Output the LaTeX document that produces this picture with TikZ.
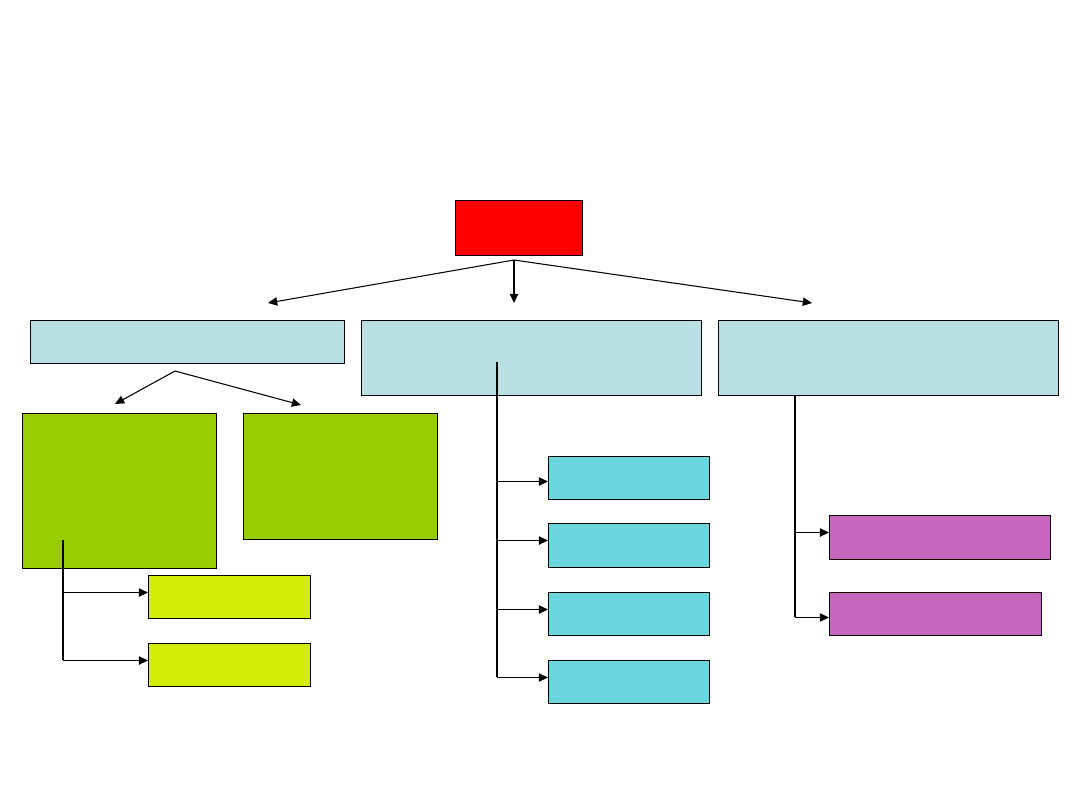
\documentclass[tikz,border=0pt]{standalone}
\usepackage{tikz}
\usetikzlibrary{arrows.meta,positioning,calc}
\definecolor{piros}{HTML}{FF0000}
\definecolor{halvany}{HTML}{BBE0E3}
\definecolor{zold}{HTML}{99CC00}
\definecolor{sarga}{HTML}{D4EC0A}
\definecolor{turkiz}{HTML}{6BD7DD}
\definecolor{lila}{HTML}{C866C0}
\tikzset{
  dob/.style={draw,line width=0.7pt,inner sep=0pt,anchor=north west},
  nyil/.style={line width=0.75pt,-{Triangle[length=2.3mm,width=2.1mm]}},
  vonal/.style={line width=0.75pt},
}

\begin{document}
\begin{tikzpicture}[x=0.025cm,y=-0.025cm]
  \useasboundingbox (0,0) rectangle (1080,810);
  % felso szint
  \node[dob,fill=piros,minimum width=3.175cm,minimum height=1.375cm] (fo) at (455,200) {};
  \node[dob,fill=halvany,minimum width=7.85cm,minimum height=1.075cm] (b1) at (30,320) {};
  \node[dob,fill=halvany,minimum width=8.5cm,minimum height=1.875cm] (b2) at (361,320) {};
  \node[dob,fill=halvany,minimum width=8.5cm,minimum height=1.875cm] (b3) at (718,320) {};
  % bal ag
  \node[dob,fill=zold,minimum width=4.85cm,minimum height=3.875cm] (g1) at (22,413) {};
  \node[dob,fill=zold,minimum width=4.85cm,minimum height=3.15cm] (g2) at (243,413) {};
  \node[dob,fill=sarga,minimum width=4.05cm,minimum height=1.075cm] (s1) at (148,575) {};
  \node[dob,fill=sarga,minimum width=4.05cm,minimum height=1.075cm] (s2) at (148,643) {};
  % kozepso ag
  \node[dob,fill=turkiz,minimum width=4.025cm,minimum height=1.075cm] (t1) at (548,456) {};
  \node[dob,fill=turkiz,minimum width=4.025cm,minimum height=1.1cm] (t2) at (548,523) {};
  \node[dob,fill=turkiz,minimum width=4.025cm,minimum height=1.075cm] (t3) at (548,592) {};
  \node[dob,fill=turkiz,minimum width=4.025cm,minimum height=1.075cm] (t4) at (548,660) {};
  % jobb ag
  \node[dob,fill=lila,minimum width=5.525cm,minimum height=1.1cm] (l1) at (829,515) {};
  \node[dob,fill=lila,minimum width=5.3cm,minimum height=1.075cm] (l2) at (829,592) {};

  % legyezo a piros dobozbol
  \coordinate (fk) at (514,260);
  \coordinate (fk1) at (268,303); \coordinate (fk2) at (514,303); \coordinate (fk3) at (812,303);
  \draw[nyil] (fk) -- (fk1);
  \draw[nyil] (fk) -- (fk2);
  \draw[nyil] (fk) -- (fk3);
  \coordinate (bk) at (175,371);
  \coordinate (bk1) at (115,404); \coordinate (bk2) at (301,405);
  \draw[nyil] (bk) -- (bk1);
  \draw[nyil] (bk) -- (bk2);

  % torzsvonalak
  \coordinate (gt) at (63,540);
  \draw[vonal] (gt) -- (63,660);
  \foreach \d/\o in {s1/-4.5,s2/-4.5}{
    \coordinate (p) at ($(\d.west)+(0,\o)$);
    \draw[nyil] (p -| gt) -- (p);}
  \coordinate (kt) at (497,362);
  \draw[vonal] (kt) -- (497,677);
  \foreach \d/\o in {t1/3.5,t2/-5,t3/-4.5,t4/-4.5}{
    \coordinate (p) at ($(\d.west)+(0,\o)$);
    \draw[nyil] (p -| kt) -- (p);}
  \coordinate (jt) at (795,395);
  \draw[vonal] (jt) -- (795,617);
  \foreach \d/\o in {l1/-5,l2/3.5}{
    \coordinate (p) at ($(\d.west)+(0,\o)$);
    \draw[nyil] (p -| jt) -- (p);}
\end{tikzpicture}
\end{document}
